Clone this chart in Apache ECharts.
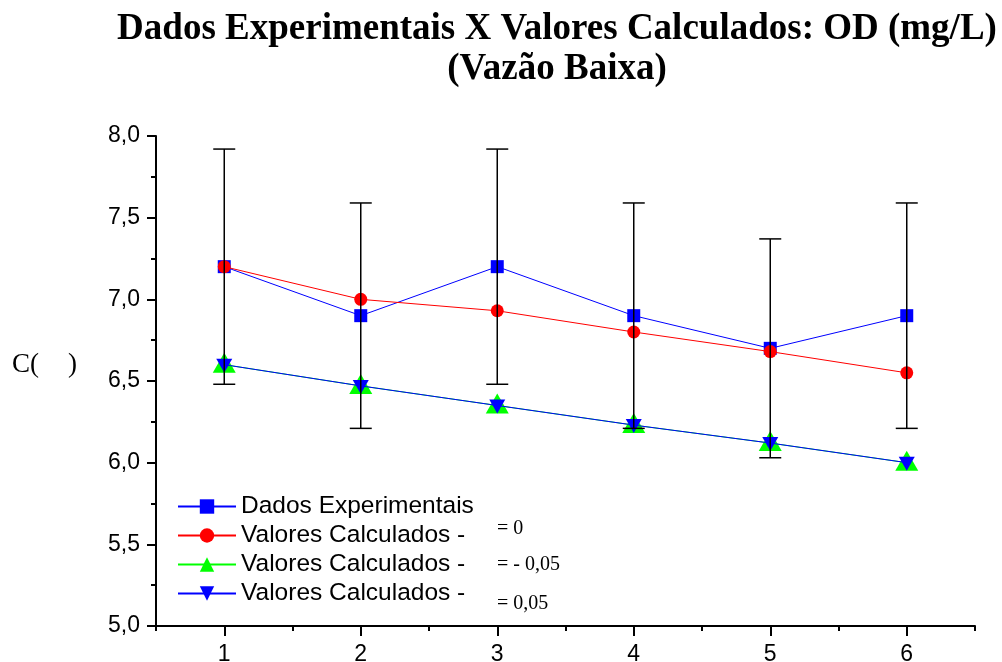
<!DOCTYPE html>
<html>
<head>
<meta charset="utf-8">
<script src="https://cdn.jsdelivr.net/npm/echarts@6/dist/echarts.min.js"></script>
<style>html,body{margin:0;padding:0;background:#fff;}#c{width:1002px;height:662px;}</style>
</head>
<body>
<div id="c"></div>
<script>
const xValues = [1, 2, 3, 4, 5, 6];
const xTickLabels = [1, 2, 3, 4, 5, 6];
const dadosExp = [7.2, 6.9, 7.2, 6.9, 6.7, 6.9];
const errHigh = [7.92, 7.59, 7.92, 7.59, 7.37, 7.59];
const errLow = [6.48, 6.21, 6.48, 6.21, 6.03, 6.21];
const calcZero = [7.2, 7.0, 6.93, 6.8, 6.68, 6.55];
const calcNeg = [6.6, 6.47, 6.35, 6.23, 6.12, 6.0];
const calcPos = [6.6, 6.47, 6.35, 6.23, 6.12, 6.0];
const seriesNames = ['Dados Experimentais', 'Valores Calculados -', 'Valores Calculados - ', 'Valores Calculados -  '];
const legendSuffix = ['= 0', '= - 0,05', '= 0,05'];

const pairs = (ys) => xValues.map((x, i) => [x, ys[i]]);
const errData = xValues.map((x, i) => [x, errLow[i], errHigh[i]]);

const chart = echarts.init(document.getElementById('c'));
const sans = 'Liberation Sans, Arial, sans-serif';
const serif = 'Liberation Serif, Times New Roman, serif';

chart.setOption({
  animation: false,
  backgroundColor: '#fff',
  title: {
    text: 'Dados Experimentais X Valores Calculados: OD (mg/L)\n(Vazão Baixa)',
    left: 552, top: 4, textAlign: 'center',
    textStyle: { fontFamily: serif, fontWeight: 'bold', fontSize: 37, lineHeight: 40, color: '#000' }
  },
  grid: { left: 156, right: 27, top: 136, bottom: 36, outerBoundsMode: 'none', containLabel: false },
  legend: {
    orient: 'vertical', left: 172, top: 489,
    itemWidth: 58, itemHeight: 18, itemGap: 4,
    data: seriesNames,
    formatter: (n) => n.trim(),
    textStyle: { fontFamily: sans, fontSize: 24.5, color: '#000' }
  },
  xAxis: [{
    type: 'value', min: 0.5, max: 6.5, interval: 0.5,
    axisLine: { lineStyle: { color: '#000', width: 2 } },
    axisTick: { length: 5, lineStyle: { color: '#000', width: 2 } },
    axisLabel: { show: false },
    splitLine: { show: false }
  }, {
    type: 'value', min: 0.5, max: 6.5, position: 'bottom',
    axisLine: { show: false },
    axisTick: { length: 10, customValues: xTickLabels, lineStyle: { color: '#000', width: 2 } },
    axisLabel: { customValues: xTickLabels, margin: 17, fontFamily: sans, fontSize: 23, color: '#000' },
    splitLine: { show: false }
  }],
  yAxis: {
    type: 'value', min: 5, max: 8, interval: 0.5,
    axisLine: { show: true, lineStyle: { color: '#000', width: 2 } },
    axisTick: { show: true, length: 9, lineStyle: { color: '#000', width: 2 } },
    minorTick: { show: true, splitNumber: 2, length: 5, lineStyle: { color: '#000', width: 2 } },
    axisLabel: { margin: 16, fontFamily: sans, fontSize: 23, color: '#000',
      formatter: (v) => v.toFixed(1).replace('.', ',') },
    splitLine: { show: false }
  },
  graphic: [
    { type: 'text', left: 12, top: 351, style: { text: 'C(', font: '27px ' + serif, fill: '#000' } },
    { type: 'text', left: 68, top: 351, style: { text: ')', font: '27px ' + serif, fill: '#000' } },
    { type: 'text', left: 497, top: 519, style: { text: legendSuffix[0], font: '20px ' + serif, fill: '#000' } },
    { type: 'text', left: 497, top: 555, style: { text: legendSuffix[1], font: '20px ' + serif, fill: '#000' } },
    { type: 'text', left: 497, top: 594, style: { text: legendSuffix[2], font: '20px ' + serif, fill: '#000' } }
  ],
  series: [
    {
      name: seriesNames[0], type: 'line', data: pairs(dadosExp),
      symbol: 'rect', symbolSize: 13,
      lineStyle: { color: '#0000ff', width: 1 }, itemStyle: { color: '#0000ff' }, z: 2
    },
    {
      name: seriesNames[1], type: 'line', data: pairs(calcZero),
      symbol: 'circle', symbolSize: 13,
      lineStyle: { color: '#ff0000', width: 1 }, itemStyle: { color: '#ff0000' }, z: 3
    },
    {
      name: seriesNames[2], type: 'line', data: pairs(calcNeg),
      symbol: 'triangle', symbolSize: [23, 20], symbolOffset: [0, -2],
      lineStyle: { color: '#00ff00', width: 1 }, itemStyle: { color: '#00ff00' }, z: 4
    },
    {
      name: seriesNames[3], type: 'line', data: pairs(calcPos),
      symbol: 'triangle', symbolSize: [16, 14], symbolRotate: 180, symbolOffset: [0, 1],
      lineStyle: { color: '#0000ff', width: 1 }, itemStyle: { color: '#0000ff' }, z: 5
    },
    {
      type: 'custom', name: 'err', z: 10, data: errData,
      renderItem: (params, api) => {
        const x = api.value(0);
        const lo = api.coord([x, api.value(1)]);
        const hi = api.coord([x, api.value(2)]);
        const w = 11;
        const st = { stroke: '#000', lineWidth: 1.5 };
        return {
          type: 'group',
          children: [
            { type: 'line', shape: { x1: lo[0], y1: lo[1], x2: hi[0], y2: hi[1] }, style: st },
            { type: 'line', shape: { x1: lo[0] - w, y1: lo[1], x2: lo[0] + w, y2: lo[1] }, style: st },
            { type: 'line', shape: { x1: hi[0] - w, y1: hi[1], x2: hi[0] + w, y2: hi[1] }, style: st }
          ]
        };
      }
    }
  ]
});
</script>
</body>
</html>
